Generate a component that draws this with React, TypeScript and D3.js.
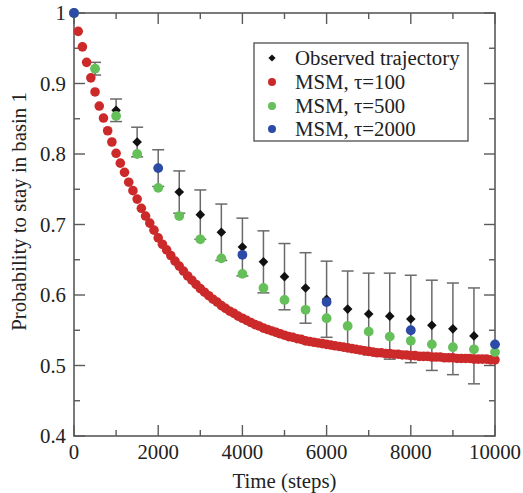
import React from "react";
import * as d3 from "d3";

// ---- data ----
const redTimes: number[] = d3.range(0, 10001, 100);
const redValues: number[] = [
  1.0, 0.974, 0.952, 0.93, 0.908, 0.888, 0.868, 0.851, 0.833, 0.817,
  0.801, 0.787, 0.774, 0.76, 0.748, 0.736, 0.723, 0.712, 0.702, 0.692,
  0.681, 0.672, 0.664, 0.656, 0.648, 0.641, 0.634, 0.627, 0.621, 0.615,
  0.609, 0.604, 0.599, 0.594, 0.59, 0.585, 0.581, 0.577, 0.574, 0.57,
  0.567, 0.564, 0.561, 0.558, 0.556, 0.553, 0.551, 0.549, 0.547, 0.545,
  0.543, 0.541, 0.54, 0.538, 0.537, 0.535, 0.534, 0.533, 0.532, 0.531,
  0.53, 0.529, 0.528, 0.527, 0.526, 0.525, 0.524, 0.523, 0.522, 0.521,
  0.52, 0.519, 0.518, 0.518, 0.517, 0.517, 0.516, 0.516, 0.515, 0.515,
  0.514, 0.514, 0.513, 0.513, 0.513, 0.512, 0.512, 0.512, 0.511, 0.511,
  0.511, 0.51, 0.51, 0.51, 0.51, 0.509, 0.509, 0.509, 0.509, 0.508, 0.508,
];

const greenTimes: number[] = [0, 500, 1000, 1500, 2000, 2500, 3000, 3500, 4000, 4500, 5000, 5500, 6000, 6500, 7000, 7500, 8000, 8500, 9000, 9500, 10000];
const greenValues: number[] = [1.0, 0.921, 0.854, 0.8, 0.752, 0.712, 0.679, 0.652, 0.63, 0.61, 0.593, 0.579, 0.567, 0.556, 0.548, 0.541, 0.535, 0.53, 0.526, 0.523, 0.519];

const blueTimes: number[] = [0, 2000, 4000, 6000, 8000, 10000];
const blueValues: number[] = [1.0, 0.78, 0.657, 0.59, 0.55, 0.53];

const obsTimes: number[] = [500, 1000, 1500, 2000, 2500, 3000, 3500, 4000, 4500, 5000, 5500, 6000, 6500, 7000, 7500, 8000, 8500, 9000, 9500];
const obsValues: number[] = [0.921, 0.862, 0.817, 0.78, 0.746, 0.714, 0.689, 0.668, 0.647, 0.626, 0.61, 0.594, 0.58, 0.573, 0.57, 0.566, 0.557, 0.552, 0.542];
const obsErrors: number[] = [0.009, 0.016, 0.021, 0.026, 0.03, 0.035, 0.04, 0.041, 0.044, 0.047, 0.05, 0.054, 0.054, 0.058, 0.061, 0.062, 0.064, 0.065, 0.068];

const xTicks: number[] = [0, 2000, 4000, 6000, 8000, 10000];
const xMinorTicks: number[] = [1000, 3000, 5000, 7000, 9000];
const yTicks: number[] = [0.4, 0.5, 0.6, 0.7, 0.8, 0.9, 1];
const yMinorTicks: number[] = [0.45, 0.55, 0.65, 0.75, 0.85, 0.95];

const legendLabels: string[] = ["Observed trajectory", "MSM, \u03c4=100", "MSM, \u03c4=500", "MSM, \u03c4=2000"];

const RED = "#cc2a2a";
const GREEN = "#66c05a";
const BLUE = "#2c4ba6";
const AXIS = "#5a5a5a";
const FONT = "'Liberation Serif', 'Times New Roman', serif";
const FS = 20.8;

export default function App() {
  const W = 523, H = 493;
  const left = 74, right = 495, top = 13, bottom = 436;
  const x = d3.scaleLinear().domain([0, 10000]).range([left, right]);
  const y = d3.scaleLinear().domain([0.4, 1]).range([bottom, top]);
  const major = 11, minor = 6;

  const diamond = (cx: number, cy: number, r: number) =>
    `M${cx},${cy - r}L${cx + r},${cy}L${cx},${cy + r}L${cx - r},${cy}Z`;

  const legendX = 254, legendY = 43, legendW = 214, legendH = 98;
  const legendRows = [58, 82, 106, 129];

  return (
    <svg width={W} height={H} style={{ position: "absolute", left: 0, top: 0, background: "#fff" }} fontFamily={FONT}>
      {/* frame */}
      <rect x={left} y={top} width={right - left} height={bottom - top} fill="none" stroke={AXIS} strokeWidth={1.6} />
      {/* x ticks */}
      {xTicks.map((t) => (
        <g key={"xt" + t}>
          <line x1={x(t)} x2={x(t)} y1={bottom} y2={bottom - major} stroke={AXIS} strokeWidth={1.4} />
          <line x1={x(t)} x2={x(t)} y1={top} y2={top + major} stroke={AXIS} strokeWidth={1.4} />
          <text x={x(t)} y={459} textAnchor="middle" fontSize={FS} fill="#222">{t}</text>
        </g>
      ))}
      {xMinorTicks.map((t) => (
        <g key={"xm" + t}>
          <line x1={x(t)} x2={x(t)} y1={bottom} y2={bottom - minor} stroke={AXIS} strokeWidth={1.4} />
          <line x1={x(t)} x2={x(t)} y1={top} y2={top + minor} stroke={AXIS} strokeWidth={1.4} />
        </g>
      ))}
      {/* y ticks */}
      {yTicks.map((t) => (
        <g key={"yt" + t}>
          <line x1={left} x2={left + major} y1={y(t)} y2={y(t)} stroke={AXIS} strokeWidth={1.4} />
          <line x1={right} x2={right - major} y1={y(t)} y2={y(t)} stroke={AXIS} strokeWidth={1.4} />
          <text x={66} y={y(t) + 7} textAnchor="end" fontSize={FS} fill="#222">{d3.format("")(t)}</text>
        </g>
      ))}
      {yMinorTicks.map((t) => (
        <g key={"ym" + t}>
          <line x1={left} x2={left + minor} y1={y(t)} y2={y(t)} stroke={AXIS} strokeWidth={1.4} />
          <line x1={right} x2={right - minor} y1={y(t)} y2={y(t)} stroke={AXIS} strokeWidth={1.4} />
        </g>
      ))}
      {/* axis titles */}
      <text x={(left + right) / 2} y={488} textAnchor="middle" fontSize={FS} fill="#222">Time (steps)</text>
      <text transform={`translate(26,${(top + bottom) / 2 - 13}) rotate(-90)`} textAnchor="middle" fontSize={FS} fill="#222">
        Probability to stay in basin 1
      </text>

      {/* error bars */}
      {obsTimes.map((t, i) => {
        const cx = x(t), y1 = y(obsValues[i] + obsErrors[i]), y2 = y(obsValues[i] - obsErrors[i]);
        return (
          <g key={"eb" + t} stroke="#6a6a6a" strokeWidth={1.5}>
            <line x1={cx} x2={cx} y1={y1} y2={y2} />
            <line x1={cx - 6} x2={cx + 6} y1={y1} y2={y1} />
            <line x1={cx - 6} x2={cx + 6} y1={y2} y2={y2} />
          </g>
        );
      })}
      {/* observed */}
      {obsTimes.map((t, i) => (
        <path key={"ob" + t} d={diamond(x(t), y(obsValues[i]), 4.8)} fill="#111" />
      ))}
      {/* red */}
      {redTimes.map((t, i) => (
        <circle key={"r" + t} cx={x(t)} cy={y(redValues[i])} r={4.8} fill={RED} />
      ))}
      {/* green */}
      {greenTimes.map((t, i) => (
        <circle key={"g" + t} cx={x(t)} cy={y(greenValues[i])} r={4.9} fill={GREEN} />
      ))}
      {/* blue */}
      {blueTimes.map((t, i) => (
        <circle key={"b" + t} cx={x(t)} cy={y(blueValues[i])} r={4.9} fill={BLUE} />
      ))}

      {/* legend */}
      <rect x={legendX} y={legendY} width={legendW} height={legendH} fill="#fff" stroke={AXIS} strokeWidth={1.4} />
      {legendLabels.map((lab, i) => {
        const cy = legendRows[i];
        const mx = 272;
        return (
          <g key={"lg" + i}>
            {i === 0 ? (
              <path d={diamond(mx, cy, 3.6)} fill="#111" />
            ) : (
              <circle cx={mx} cy={cy} r={4} fill={[RED, GREEN, BLUE][i - 1]} />
            )}
            <text x={295} y={cy + 7} fontSize={FS} fill="#222">{lab}</text>
          </g>
        );
      })}
    </svg>
  );
}
